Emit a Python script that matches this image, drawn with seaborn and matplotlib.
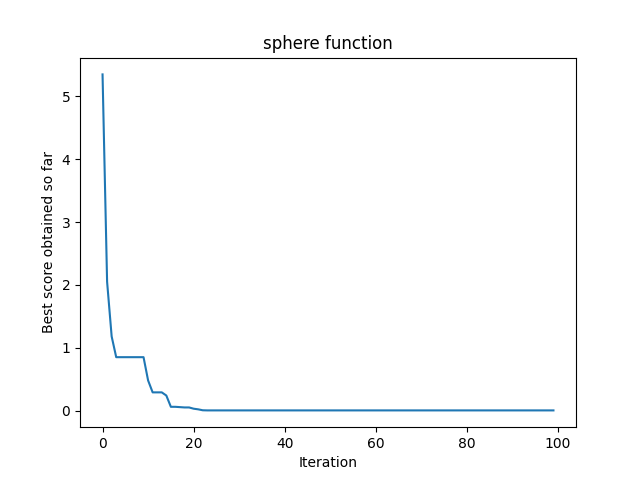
import matplotlib
matplotlib.use("Agg")
import matplotlib.pyplot as plt
import seaborn as sns
import numpy as np

iterations = list(range(100))
head_scores = [5.35, 2.05, 1.18, 0.85, 0.85, 0.85, 0.85, 0.85, 0.85, 0.85,
               0.48, 0.29, 0.29, 0.29, 0.24, 0.06, 0.06, 0.055, 0.05, 0.05,
               0.03, 0.02, 0.005]
tail_scores = [0.003] * (100 - len(head_scores))
scores = head_scores + tail_scores

fig, ax = plt.subplots(figsize=(6.4, 4.8), dpi=100)
sns.lineplot(x=iterations, y=scores, ax=ax, color="#1f77b4", linewidth=1.5)
ax.set_title("sphere function")
ax.set_xlabel("Iteration")
ax.set_ylabel("Best score obtained so far")
fig.savefig("out.png", dpi=100)
